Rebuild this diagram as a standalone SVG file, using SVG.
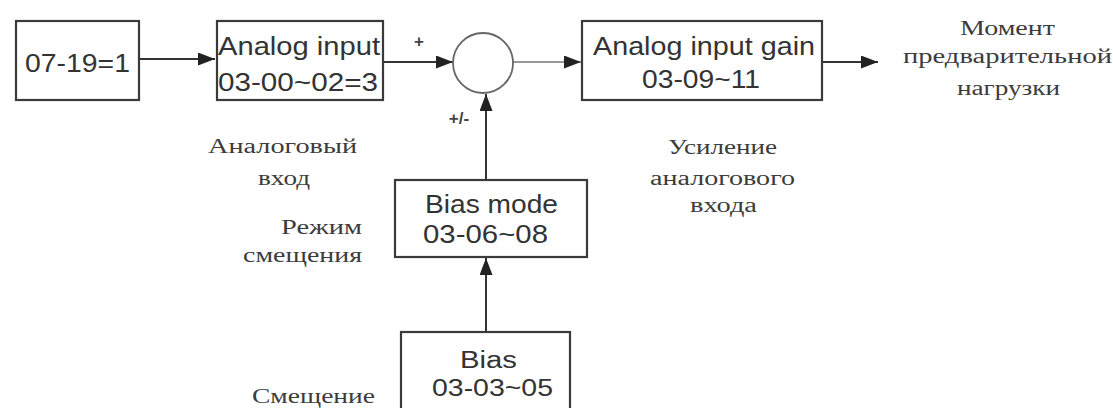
<svg xmlns="http://www.w3.org/2000/svg" width="1113" height="408" viewBox="0 0 1113 408">
<style>
.box{fill:#fff;stroke:#3a3a3a;stroke-width:2.2}
.sum{fill:#fff;stroke:#666;stroke-width:1.8}
.t{font-family:"Liberation Sans",Arial,sans-serif;font-size:26px;fill:#333}
.tb{font-family:"Liberation Sans",Arial,sans-serif;font-size:23px;fill:#333}
.s{font-family:"Liberation Serif","Times New Roman",serif;font-size:20px;fill:#3c3c3c}
.sign{font-family:"Liberation Sans",Arial,sans-serif;font-size:17px;font-weight:bold;fill:#444}
.c{fill:none;stroke:#333;stroke-width:2;marker-end:url(#ah)}
.cl{fill:none;stroke:#777;stroke-width:1.6;marker-end:url(#ah)}
</style>
<defs>
<marker id="ah" markerUnits="userSpaceOnUse" markerWidth="18" markerHeight="13" refX="17" refY="6.5" orient="auto">
<path d="M0,0 L17,6.5 L0,13 z" fill="#222"/>
</marker>
</defs>
<rect width="1113" height="408" fill="#fff"/>
<g id="connectors">
<path class="c" d="M139,59 L215,59"/>
<path class="c" d="M383,62 L453,62"/>
<path class="cl" d="M513,62 L581,62"/>
<path class="c" d="M822,62 L878,62"/>
<path class="c" d="M486,180 L486,94"/>
<path class="c" d="M486,332 L486,258"/>
</g>
<g id="n0719">
<rect class="box" x="16" y="21" width="123" height="79"/>
<text class="t" x="25" y="72" textLength="105" lengthAdjust="spacingAndGlyphs">07-19=1</text>
</g>
<g id="analog-input">
<rect class="box" x="217" y="21" width="166" height="79"/>
<text class="t" x="218" y="55" textLength="162" lengthAdjust="spacingAndGlyphs">Analog input</text>
<text class="t" x="218" y="91" textLength="160" lengthAdjust="spacingAndGlyphs">03-00~02=3</text>
</g>
<g id="sum">
<circle class="sum" cx="483" cy="63" r="30"/>
<text class="sign" x="419" y="47" text-anchor="middle">+</text>
<text class="sign" x="459" y="124" text-anchor="middle">+/-</text>
</g>
<g id="gain">
<rect class="box" x="582" y="21" width="240" height="79"/>
<text class="t" x="593" y="55" textLength="222" lengthAdjust="spacingAndGlyphs">Analog input gain</text>
<text class="t" x="642" y="88" textLength="118" lengthAdjust="spacingAndGlyphs">03-09~11</text>
</g>
<g id="bias-mode">
<rect class="box" x="395" y="180" width="192" height="77"/>
<text class="t" x="425" y="213" textLength="133" lengthAdjust="spacingAndGlyphs">Bias mode</text>
<text class="t" x="423" y="243" textLength="125" lengthAdjust="spacingAndGlyphs">03-06~08</text>
</g>
<g id="bias">
<rect class="box" x="401" y="332" width="169" height="90"/>
<text class="tb" x="460" y="368" textLength="57" lengthAdjust="spacingAndGlyphs">Bias</text>
<text class="tb" x="432" y="396" textLength="121" lengthAdjust="spacingAndGlyphs">03-03~05</text>
</g>
<g id="labels">
<text class="s" x="208" y="153" textLength="149" lengthAdjust="spacingAndGlyphs">Аналоговый</text>
<text class="s" x="258" y="185" textLength="52" lengthAdjust="spacingAndGlyphs">вход</text>
<text class="s" x="281" y="234" textLength="81" lengthAdjust="spacingAndGlyphs">Режим</text>
<text class="s" x="243" y="262" textLength="119" lengthAdjust="spacingAndGlyphs">смещения</text>
<text class="s" x="252" y="403" textLength="123" lengthAdjust="spacingAndGlyphs">Смещение</text>
<text class="s" x="668" y="154" textLength="109" lengthAdjust="spacingAndGlyphs">Усиление</text>
<text class="s" x="650" y="185" textLength="145" lengthAdjust="spacingAndGlyphs">аналогового</text>
<text class="s" x="690" y="212" textLength="67" lengthAdjust="spacingAndGlyphs">входа</text>
<text class="s" x="960" y="35" textLength="95" lengthAdjust="spacingAndGlyphs">Момент</text>
<text class="s" x="903" y="63" textLength="209" lengthAdjust="spacingAndGlyphs">предварительной</text>
<text class="s" x="957" y="95" textLength="103" lengthAdjust="spacingAndGlyphs">нагрузки</text>
</g>
</svg>
